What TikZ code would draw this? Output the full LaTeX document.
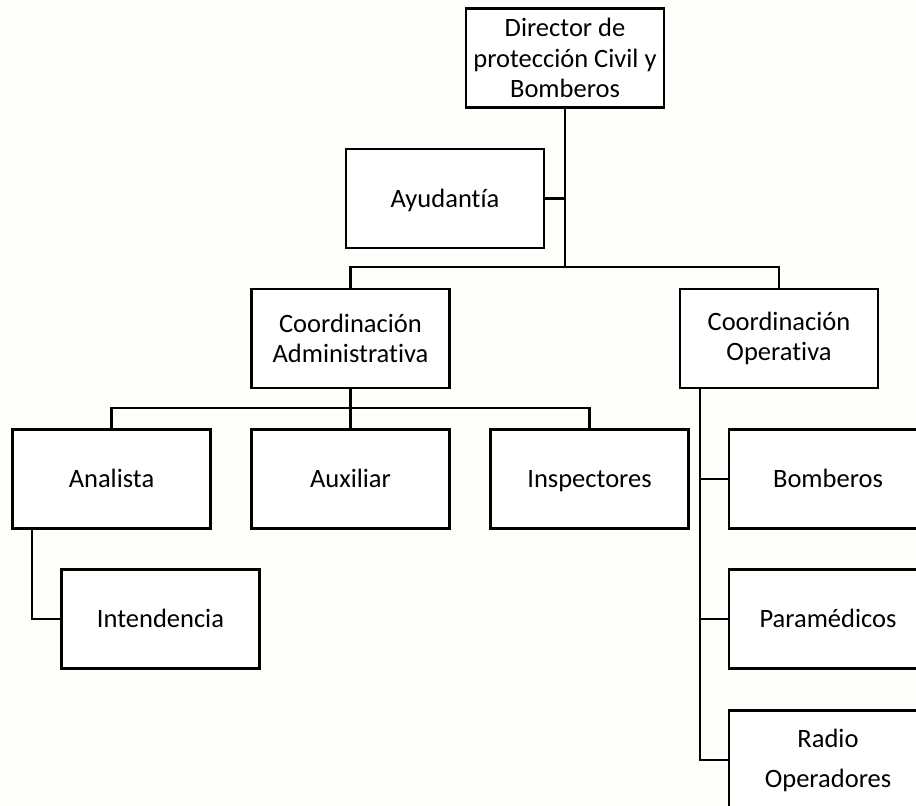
\documentclass[tikz,border=0pt]{standalone}
\usepackage{fontspec}
\setmainfont{Carlito}[Ligatures=NoCommon]
\definecolor{bgcol}{RGB}{254,254,250}
\tikzset{
  orgbox/.style={draw=black, line width=2.8pt, fill=white, rectangle, inner sep=0pt,
    minimum width=198pt, minimum height=99pt, align=center,
    font=\fontsize{26.5}{30.5}\selectfont},
  onebox/.style={orgbox, text height=21pt, text depth=4pt},
  conn/.style={draw=black, line width=2.8pt}
}
\begin{document}
\begin{tikzpicture}[x=1pt,y=-1pt]
\useasboundingbox (0,0) rectangle (916,806);
\clip (0,0) rectangle (916,806);
\fill[bgcol] (0,0) rectangle (916,806);
% nodes
\node[orgbox] (dir) at (565,58) {Director de\\protección Civil y\\Bomberos};
\node[onebox] (ayu) at (445,198.5) {Ayudantía};
\node[orgbox] (cadm) at (350.5,338.5) {Coordinación\\Administrativa};
\node[orgbox] (cop) at (779,338.5) {Coordinación\\Operativa};
\node[onebox] (ana) at (111.5,479) {Analista};
\node[onebox] (aux) at (350.5,479) {Auxiliar};
\node[onebox] (ins) at (589.5,479) {Inspectores};
\node[onebox] (int) at (160.5,619) {Intendencia};
\node[onebox] (bom) at (828,479) {Bomberos};
\node[onebox] (par) at (828,619) {Paramédicos};
\node[orgbox, font=\fontsize{26.5}{40}\selectfont] (rad) at (828,760) {Radio\\Operadores};
% junction coordinates
\coordinate (j1) at (565,267);
\coordinate (j1l) at (350.5,267);
\coordinate (j1r) at (779,267);
\coordinate (ja) at (565,198.5);
\coordinate (j2) at (350.5,408);
\coordinate (j2l) at (111.5,408);
\coordinate (j2r) at (589.5,408);
\coordinate (ja1) at (32,528.5);
\coordinate (ja2) at (32,619);
\coordinate (jo1) at (700,388.5);
\coordinate (jb) at (700,479);
\coordinate (jp) at (700,619);
\coordinate (jr) at (700,760);
% connectors
\draw[conn] (dir.south) -- (j1);
\draw[conn] (ayu.east) -- (ja);
\draw[conn] (cadm.north) -- (j1l) -- (j1r) -- (cop.north);
\draw[conn] (cadm.south) -- (j2);
\draw[conn] (ana.north) -- (j2l) -- (j2r) -- (ins.north);
\draw[conn] (j2) -- (aux.north);
\draw[conn] (ja1) -- (ja2) -- (int.west);
\draw[conn] (jo1) -- (jr) -- (rad.west);
\draw[conn] (jb) -- (bom.west);
\draw[conn] (jp) -- (par.west);
\end{tikzpicture}
\end{document}
